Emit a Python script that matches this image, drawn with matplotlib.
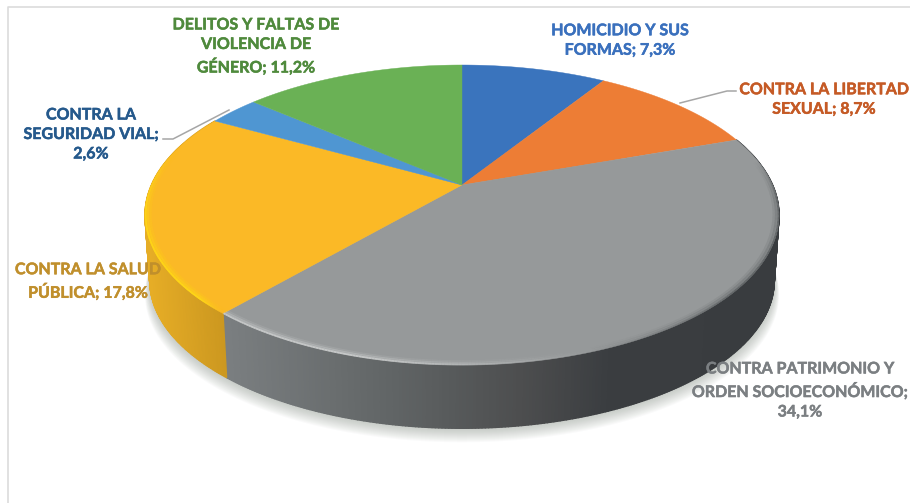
import numpy as np
import matplotlib
matplotlib.use('Agg')
import matplotlib.pyplot as plt
import matplotlib.patheffects as pe
from matplotlib.collections import LineCollection, PolyCollection
from matplotlib.colors import to_rgb

labels = ['HOMICIDIO Y SUS\nFORMAS; 7,3%',
          'CONTRA LA LIBERTAD\nSEXUAL; 8,7%',
          'CONTRA PATRIMONIO Y\nORDEN SOCIOECONÓMICO;\n34,1%',
          'CONTRA LA SALUD\nPÚBLICA; 17,8%',
          'CONTRA LA\nSEGURIDAD VIAL;\n2,6%',
          'DELITOS Y FALTAS DE\nVIOLENCIA DE\nGÉNERO; 11,2%']
values = [7.3, 8.7, 34.1, 17.8, 2.6, 11.2]

colors = ['#3a74bd', '#ed7d35', '#96999a', '#fbb926', '#4f96d2', '#6ab155']
text_colors = ['#3a70bd', '#c55a25', '#7b7f82', '#c08f2c', '#25598c', '#4f8a3c']
label_pos = [(620, 41), (824, 100), (800, 391), (88, 282), (91, 135), (256, 47)]

plt.rcParams['font.family'] = ['Lato', 'DejaVu Sans']


def project(theta, r=1.0, bottom=False):
    # cercle vu en perspective, theta en degres depuis le haut
    t = np.radians(theta)
    u = r * np.sin(t)
    v = -r * np.cos(t)
    w = 1 - 0.2 * v
    x = 310.6 * u / w
    y = 144 * v / w
    if bottom:
        return 462 + 0.985 * x, 185 + 66 + 0.985 * y
    return 462 + x, 185 + y


def side_color(x, i):
    if i == 3:
        return [np.interp(x, [147, 232], [a, b]) for a, b in zip(to_rgb('#e6ad26'), to_rgb('#c9951f'))]
    stops = ['#7a7e80', '#5f6364', '#4d4e4f', '#3a3d40', '#393c3f']
    pts = [228, 400, 520, 610, 800]
    rgb = np.array([to_rgb(c) for c in stops])
    return [np.interp(x, pts, rgb[:, k]) for k in range(3)]


fig = plt.figure(figsize=(9.1, 5.03), dpi=100)
ax = fig.add_axes([0, 0, 1, 1])
ax.set_xlim(0, 910)
ax.set_ylim(503, 0)
ax.axis('off')

# cadre
ax.plot([8, 8, 910], [503, 6.5, 6.5], color='#dcdcdc', lw=1.2, zorder=1)

# ombre
circle = np.linspace(0, 360, 361)
for k in range(14, 0, -1):
    sx, sy = project(circle, bottom=True)
    ax.fill(462 + (sx - 462) * (1 + k * 0.0011), sy + k * 1.0, color='#7f8a80', alpha=0.035, lw=0, zorder=2)

bounds = np.cumsum([0] + values) / np.sum(values) * 360

# cote
quads, quad_colors = [], []
for i in range(len(values)):
    if i not in (2, 3):
        continue
    angles = np.arange(bounds[i], bounds[i + 1], 0.5)
    angles = np.append(angles, bounds[i + 1])
    for a, b in zip(angles[:-1], angles[1:]):
        x0, y0 = project(a)
        x1, y1 = project(b)
        x2, y2 = project(b, bottom=True)
        x3, y3 = project(a, bottom=True)
        quads.append([(x0, y0), (x1, y1), (x2, y2), (x3, y3)])
        quad_colors.append(side_color((x0 + x1) / 2, i))
ax.add_collection(PolyCollection(quads, facecolors=quad_colors, edgecolors=quad_colors, linewidths=1.0, zorder=3))

# dessus
for i in range(len(values)):
    t = np.linspace(bounds[i], bounds[i + 1], 200)
    x, y = project(t)
    ax.fill(np.append(x, 462), np.append(y, 185), color=colors[i], lw=0.3, zorder=4)

# reflet du bord, plusieurs passes pour le flou
segs, seg_colors, seg_w = [], [], []
for i in (2, 3):
    t = np.linspace(bounds[i], bounds[i + 1], 300)
    for a, b in zip(t[:-1], t[1:]):
        for r, strength, width in [(0.998, 1.0, 1.3), (0.991, 0.45, 1.6), (0.984, 0.18, 1.8)]:
            x0, y0 = project(a, r)
            x1, y1 = project(b, r)
            if i == 3:
                al = np.clip((a - 221) / 6, 0, 1) * np.clip((285 - a) / 25, 0, 1)
                segs.append([(x0, y0), (x1, y1)])
                seg_colors.append(to_rgb('#ffdc14') + (al * strength,))
                seg_w.append(width)
            else:
                al = np.clip((a - 160) / 35, 0, 1)
                segs.append([(x0, y0), (x1, y1)])
                seg_colors.append(to_rgb('#cfd1d1') + (al * strength * 0.85,))
                seg_w.append(width)
                # bord sombre flou a droite
                al2 = np.clip((160 - a) / 30, 0, 1) * np.clip((a - 80) / 15, 0, 1)
                segs.append([(x0, y0), (x1, y1)])
                seg_colors.append(to_rgb('#4a4e50') + (al2 * strength * 0.65,))
                seg_w.append(width)
ax.add_collection(LineCollection(segs, colors=seg_colors, linewidths=seg_w, zorder=5))

# traits de rappel
ax.plot([163, 173, 229], [139, 139, 110], color='#a6a6a6', lw=1.1, zorder=6)
ax.plot([680, 727, 736], [103, 91, 91], color='#a6a6a6', lw=1.1, zorder=6)

for i in range(len(values)):
    ax.text(label_pos[i][0], label_pos[i][1], labels[i], color=text_colors[i], fontsize=11.5,
            fontweight='bold', ha='center', va='center', linespacing=1.5, zorder=7,
            path_effects=[pe.withStroke(linewidth=0.35, foreground=text_colors[i])])

fig.savefig('out.png', dpi=100)
